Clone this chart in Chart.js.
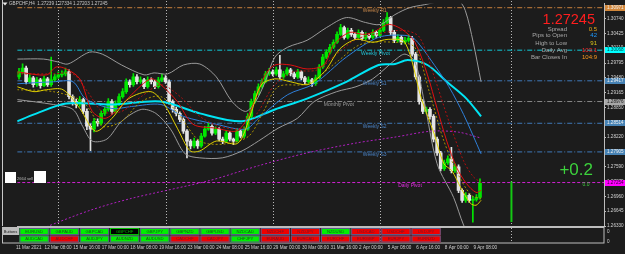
<!DOCTYPE html>
<html>
<head>
<meta charset="utf-8">
<script src="https://cdn.jsdelivr.net/npm/chart.js@4.4.1/dist/chart.umd.min.js"></script>
<style>
html,body{margin:0;padding:0;background:#1c1c1c;overflow:hidden;}
canvas{display:block;}
</style>
</head>
<body>
<canvas id="c" width="625" height="254"></canvas>
<script>
// ---------- DATA ----------
const candleOpen=[1.29501,1.29606,1.29690,1.29396,1.29480,1.29333,1.29438,1.29312,1.29459,1.29333,
1.29438,1.29501,1.29543,1.29564,1.29606,1.29081,1.28976,1.28913,1.29018,1.28766,
1.28451,1.28388,1.28556,1.28514,1.28724,1.28808,1.28976,1.28766,1.28934,1.29081,
1.29186,1.29396,1.29333,1.29501,1.29396,1.29438,1.29291,1.29438,1.29396,1.29291,
1.29438,1.29480,1.29396,1.28976,1.28808,1.28724,1.28598,1.28346,1.28136,1.28031,
1.28136,1.28031,1.28241,1.28388,1.28451,1.28304,1.28388,1.28178,1.28136,1.28304,
1.28178,1.28136,1.28346,1.28241,1.28388,1.28661,1.28976,1.29144,1.29291,1.29396,
1.29564,1.29606,1.29564,1.29648,1.29501,1.29564,1.29648,1.29564,1.29501,1.29606,
1.29480,1.29396,1.29438,1.29354,1.29480,1.29711,1.29921,1.30026,1.30131,1.30236,
1.30404,1.30551,1.30341,1.30488,1.30404,1.30341,1.30446,1.30320,1.30383,1.30341,
1.30446,1.30383,1.30488,1.30656,1.30761,1.30446,1.30278,1.30341,1.30236,1.30278,
1.30320,1.29984,1.29501,1.28976,1.28766,1.28808,1.28661,1.28178,1.27884,1.27548,
1.27674,1.27758,1.27506,1.27590,1.27086,1.26876,1.26981,1.26876,1.26897,1.26939];
const candleHigh=[1.2968,1.2978,1.2973,1.2955,1.2951,1.2949,1.2947,1.2952,1.2949,1.2992,
1.2956,1.2961,1.2963,1.2969,1.2965,1.2912,1.2903,1.2908,1.2905,1.2882,
1.2850,1.2862,1.2861,1.2878,1.2887,1.2904,1.2902,1.2899,1.2914,1.2925,
1.2946,1.2944,1.2957,1.2955,1.2950,1.2947,1.2950,1.2948,1.2943,1.2949,
1.2956,1.2953,1.2944,1.2901,1.2886,1.2876,1.2863,1.2838,1.2817,1.2820,
1.2817,1.2830,1.2845,1.2852,1.2848,1.2844,1.2842,1.2822,1.2836,1.2834,
1.2820,1.2840,1.2838,1.2844,1.2872,1.2903,1.2920,1.2935,1.2946,1.2962,
1.2968,1.2965,1.2971,1.2996,1.2962,1.2970,1.2968,1.2960,1.2966,1.2963,
1.2951,1.2950,1.2947,1.2954,1.2976,1.2998,1.3008,1.3019,1.3029,1.3046,
1.3062,1.3058,1.3054,1.3053,1.3044,1.3050,1.3048,1.3044,1.3042,1.3050,
1.3048,1.3054,1.3072,1.3087,1.3079,1.3049,1.3040,1.3038,1.3034,1.3040,
1.3036,1.3002,1.2954,1.2902,1.2886,1.2885,1.2870,1.2822,1.2792,1.2773,
1.2782,1.2800,1.2765,1.2763,1.2712,1.2704,1.2702,1.2696,1.2700,1.27334];
const candleLow=[1.2945,1.2957,1.2935,1.2936,1.2928,1.2930,1.2926,1.2929,1.2930,1.2930,
1.2941,1.2947,1.2950,1.2952,1.2903,1.2890,1.2884,1.2887,1.2872,1.2838,
1.2793,1.2833,1.2845,1.2848,1.2868,1.2877,1.2871,1.2873,1.2889,1.2905,
1.2915,1.2928,1.2930,1.2935,1.2936,1.2925,1.2926,1.2935,1.2925,1.2926,
1.2940,1.2936,1.2892,1.2875,1.2867,1.2855,1.2830,1.2778,1.2797,1.2799,
1.2798,1.2800,1.2822,1.2836,1.2826,1.2827,1.2814,1.2808,1.2810,1.2814,
1.2806,1.2811,1.2820,1.2820,1.2836,1.2863,1.2894,1.2911,1.2926,1.2937,
1.2953,1.2952,1.2953,1.2946,1.2947,1.2953,1.2952,1.2946,1.2947,1.2944,
1.2935,1.2936,1.2930,1.2932,1.2946,1.2968,1.2989,1.2999,1.3010,1.3021,
1.3038,1.3030,1.3031,1.3036,1.3030,1.3031,1.3028,1.3029,1.3030,1.3031,
1.3034,1.3035,1.3046,1.3062,1.3040,1.3023,1.3024,1.3019,1.3020,1.3024,
1.2994,1.2945,1.2892,1.2872,1.2872,1.2860,1.2812,1.2783,1.2750,1.2751,
1.2764,1.2746,1.2747,1.2704,1.2683,1.2683,1.2683,1.2641,1.2686,1.2690];
const candleClose=[1.29606,1.29690,1.29396,1.29480,1.29333,1.29438,1.29312,1.29459,1.29333,1.29438,
1.29501,1.29543,1.29564,1.29606,1.29081,1.28976,1.28913,1.29018,1.28766,1.28451,
1.28388,1.28556,1.28514,1.28724,1.28808,1.28976,1.28766,1.28934,1.29081,1.29186,
1.29396,1.29333,1.29501,1.29396,1.29438,1.29291,1.29438,1.29396,1.29291,1.29438,
1.29480,1.29396,1.28976,1.28808,1.28724,1.28598,1.28346,1.28136,1.28031,1.28136,
1.28031,1.28241,1.28388,1.28451,1.28304,1.28388,1.28178,1.28136,1.28304,1.28178,
1.28136,1.28346,1.28241,1.28388,1.28661,1.28976,1.29144,1.29291,1.29396,1.29564,
1.29606,1.29564,1.29648,1.29501,1.29564,1.29648,1.29564,1.29501,1.29606,1.29480,
1.29396,1.29438,1.29354,1.29480,1.29711,1.29921,1.30026,1.30131,1.30236,1.30404,
1.30551,1.30341,1.30488,1.30404,1.30341,1.30446,1.30320,1.30383,1.30341,1.30446,
1.30383,1.30488,1.30656,1.30761,1.30446,1.30278,1.30341,1.30236,1.30278,1.30320,
1.29984,1.29501,1.28976,1.28766,1.28808,1.28661,1.28178,1.27884,1.27548,1.27674,
1.27758,1.27506,1.27590,1.27086,1.26876,1.26981,1.26876,1.26897,1.26939,1.27245];

// indicator lines: [bar index, price]
const maCyan=[[-0.5,1.28556],[4.2,1.28703],[13.2,1.28934],[26.0,1.28913],[39.7,1.28976],[50.6,1.28724],[62.4,1.28556],[71.6,1.28808],[80.6,1.29039],[91.6,1.29396],[100.6,1.29753],[105.2,1.29774],[108.8,1.29858],[114.3,1.29753],[119.7,1.29396],[125.2,1.29039],[129.3,1.28661]];
const maBlue=[[-0.5,1.29354],[9.6,1.29396],[15.1,1.29396],[18.6,1.29039],[26.0,1.28829],[31.5,1.28871],[39.7,1.28913],[46.0,1.28661],[55.2,1.28493],[63.4,1.28388],[67.0,1.28619],[75.2,1.29123],[82.6,1.29354],[91.6,1.29921],[100.6,1.30341],[108.0,1.30383],[110.8,1.30299],[117.0,1.29669],[120.3,1.29291],[124.4,1.28703],[129.3,1.27863]];
const maRed=[[-0.5,1.29606],[7.7,1.29543],[10.4,1.29711],[13.2,1.29669],[17.0,1.29459],[20.5,1.28766],[24.1,1.28619],[27.9,1.28829],[31.5,1.29123],[36.9,1.29459],[39.7,1.29333],[44.3,1.28976],[48.7,1.28493],[55.2,1.28409],[60.7,1.28346],[63.4,1.28556],[66.2,1.29039],[68.9,1.29543],[71.6,1.29753],[76.0,1.29753],[80.6,1.29669],[85.3,1.29753],[88.0,1.30173],[92.4,1.30446],[96.2,1.30404],[99.0,1.30446],[103.3,1.30614],[107.2,1.30509],[110.8,1.30236],[114.3,1.29543],[117.0,1.28829],[119.7,1.28136],[122.5,1.27569],[125.2,1.27233],[127.9,1.27044],[129.3,1.27086]];
const maRedDot=[[-0.5,1.29564],[9.6,1.29564],[15.1,1.29564],[19.2,1.29186],[23.3,1.28766],[28.7,1.28766],[34.2,1.29081],[39.7,1.29333],[45.1,1.29081],[50.6,1.28661],[56.1,1.28451],[62.9,1.28409],[67.0,1.28766],[71.1,1.29291],[76.6,1.29606],[83.4,1.29648],[88.9,1.29984],[94.3,1.30299],[102.5,1.30446],[108.0,1.30488],[112.1,1.30341],[116.2,1.29501],[120.3,1.28556],[124.4,1.27716],[127.1,1.27380],[129.3,1.27254]];
const maYellow=[[-0.5,1.29291],[4.2,1.29186],[7.7,1.29228],[12.3,1.29228],[17.0,1.28829],[21.4,1.28346],[26.0,1.28619],[30.7,1.29039],[36.9,1.29186],[40.5,1.28934],[44.3,1.28409],[47.9,1.27926],[50.6,1.27926],[55.2,1.28136],[60.7,1.28073],[62.4,1.28199],[65.1,1.28766],[67.8,1.29333],[71.6,1.29459],[76.0,1.29396],[80.6,1.29333],[83.4,1.29459],[86.1,1.29669],[89.7,1.30089],[94.3,1.30299],[99.0,1.30236],[103.3,1.30299],[108.0,1.30236],[112.6,1.29039],[116.2,1.28283],[118.9,1.27653],[121.1,1.27506],[123.6,1.27149],[126.3,1.26813],[127.9,1.26771],[129.3,1.26876]];
const maYellowDot=[[-0.5,1.29228],[9.6,1.29186],[17.8,1.28976],[23.3,1.28451],[28.7,1.28556],[34.2,1.28976],[39.7,1.29081],[45.1,1.28661],[50.6,1.28136],[57.4,1.28073],[64.3,1.28241],[68.4,1.28766],[72.5,1.29291],[80.6,1.29354],[88.9,1.29816],[95.7,1.30194],[105.2,1.30236],[110.7,1.30131],[114.8,1.29186],[118.9,1.28136],[123.0,1.27411],[126.6,1.26981],[129.3,1.26918]];
const bbUpper=[[-0.5,1.29879],[6.9,1.29879],[11.0,1.29816],[13.7,1.29774],[19.7,1.30026],[23.3,1.29984],[28.7,1.29753],[35.0,1.29543],[37.8,1.29585],[41.6,1.29564],[46.0,1.29753],[50.6,1.29774],[55.2,1.29501],[59.6,1.28976],[63.4,1.28766],[66.2,1.28976],[68.9,1.29396],[71.6,1.29921],[75.2,1.30131],[80.6,1.30278],[86.1,1.30551],[91.6,1.30761],[97.0,1.30656],[101.1,1.30614],[105.2,1.30824],[109.3,1.30971],[113.4,1.31034],[118.9,1.31118],[123.0,1.31118],[124.9,1.30908],[127.1,1.30236],[129.3,1.29396]];
const bbLower=[[-0.5,1.29018],[9.6,1.28913],[15.1,1.28808],[17.8,1.28451],[20.5,1.28136],[24.6,1.28178],[28.7,1.28556],[34.2,1.28808],[38.3,1.28724],[42.4,1.28388],[46.5,1.27863],[50.6,1.27779],[56.9,1.27779],[62.4,1.27926],[67.0,1.28136],[72.5,1.28409],[77.9,1.28619],[82.6,1.28976],[88.9,1.29186],[94.3,1.29291],[99.0,1.29459],[105.2,1.29858],[108.0,1.29984],[110.8,1.29816],[113.4,1.28976],[117.0,1.27653],[121.6,1.26939],[124.4,1.26351],[126.0,1.26141]];
const maPurple=[[-0.5,1.26036],[6.9,1.26288],[20.0,1.26666],[31.5,1.26918],[53.3,1.27296],[67.0,1.27611],[80.6,1.27884],[94.3,1.28094],[105.2,1.28220],[115.4,1.28346],[123.0,1.28325],[129.3,1.28199]];
const greenMarker=[[137.8,1.27275],[137.8,1.26414]];

const pivotNames=['Weekly R1','Weekly Pivot','Weekly S1','Monthly Pivot','Weekly S2','Weekly S3','Daily Pivot'];
const pivotValues=[1.30971,1.30068,1.29417,1.28976,1.28514,1.27905,1.27254];
const pivotLabelAt=[96.2,95.7,96.2,85.3,96.2,96.2,106.1];

const priceTicks=[1.26330,1.26645,1.26960,1.27275,1.27590,1.27905,1.28220,1.28535,1.28850,1.29165,1.29480,1.29795,1.30110,1.30425,1.30740];
const timeTickIdx=[0,8,16,24,32,40,48,56,64,72,80,88,96,104,112,120,128];
const timeLabels=['11 Mar 2021','12 Mar 08:00','15 Mar 16:00','17 Mar 00:00','18 Mar 08:00','19 Mar 16:00','23 Mar 00:00','24 Mar 08:00','25 Mar 16:00','29 Mar 00:00','30 Mar 08:00','31 Mar 16:00','2 Apr 00:00','5 Apr 08:00','6 Apr 16:00','8 Apr 00:00','9 Apr 08:00'];
const weekSeparators=[11,41,71,101,137.8];

const titleText='GBPCHF,H4  1.27239 1.27334 1.27203 1.27245';
const bidText='1.27245';
const infoLabels=['Spread','Pips to Open','High to Low','Daily Avg','Bar Closes In'];
const infoValues=['0.5','42','91','103.1','104:9'];
const profitText='+0.2', profitSub='0.0', sellText='2664 sell';

const btnRow1=['EURUSD','GBPAUD','GBPCAD','GBPCHF','GBPJPY','GBPNZD','GBPUSD','NZDCAD','NZDCHF','NZDJPY','NZDUSD','USDCAD','USDCHF','USDJPY'];
const btnRow1State=['up','up','up','sel','up','up','up','up','dn','dn','up','dn','dn','dn'];
const btnRow2=['AUDCAD','AUDCHF','AUDJPY','AUDNZD','AUDUSD','CADCHF','CADJPY','CHFJPY','EURAUD','EURCAD','EURCHF','EURGBP','EURJPY','EURNZD'];
const btnRow2State=['up','dn','up','up','up','dn','dn','up','dn','dn','dn','dn','dn','dn'];

// ---------- STYLE ----------
const BG='#1c1c1c';
const FONT='"Liberation Sans", Arial, sans-serif';
const UP='#00e600', DN='#e4e4e4';
const pivotLineColors=['#c8803c','#10c8d8','#3f78b8','#8a8a8a','#3f78b8','#3f78b8','#d020d0'];
const pivotTextColors=['#c8884a','#22c4d8','#4a82c4','#9a9a9a','#4a82c4','#4a82c4','#e030e0'];
const pivotBoxColors=['#d2873a','#00ffff','#4682b4','#a8a8a8','#4682b4','#4682b4','#ff00ff'];
const pivotBoxText=['#f0f0f0','#004848','#f0f0f0','#202020','#f0f0f0','#f0f0f0','#300030'];
const infoColors=['#e6a817','#1e9bff','#d9c31a','#ff2a2a','#ff9a1a'];

Chart.defaults.font.family=FONT;

const pts=a=>a.map(p=>({x:p[0],y:p[1]}));
function lineDs(data,color,width,dash,order,tension){
  return {type:'line',data:pts(data),borderColor:color,borderWidth:width,borderDash:dash||[],
    pointRadius:0,tension:tension===undefined?0.3:tension,fill:false,order:order||0};
}
const isUp=candleClose.map((c,i)=>c>=candleOpen[i]);
const candleColors=isUp.map(u=>u?UP:DN);

const datasets=[
  lineDs(maYellow,'#e0d000',1,[],0),
  lineDs(maRed,'#e01010',1,[],0),
  lineDs(maYellowDot,'#a89000',1,[2,2],0),
  lineDs(maRedDot,'#b01010',1,[2,2],0),
  lineDs(maBlue,'#2f7fd8',1,[],0),
  lineDs(maCyan,'#00e4f4',2,[],0),
  lineDs(bbUpper,'#9a9a9a',1,[],0),
  lineDs(bbLower,'#9a9a9a',1,[],0),
  lineDs(maPurple,'#b020c0',1,[2,2],0),
  lineDs(greenMarker,'#14c814',2,[],0,0),
  {type:'bar',data:candleClose.map((c,i)=>({x:i,y:[candleOpen[i],c]})),backgroundColor:candleColors,
   barThickness:3,grouped:false,minBarLength:1,order:1},
  {type:'bar',data:candleClose.map((c,i)=>({x:i,y:[candleLow[i],candleHigh[i]]})),backgroundColor:candleColors,
   barThickness:1,grouped:false,order:2}
];
pivotValues.forEach((v,k)=>{
  datasets.push(lineDs([[-0.5,v],[163.7,v]],pivotLineColors[k],1,k===6?[3,2]:[5,2,1,2],3,0));
});

const decor={
  id:'decor',
  beforeDraw(chart){
    const ctx=chart.ctx; ctx.save(); ctx.fillStyle=BG; ctx.fillRect(0,0,chart.width,chart.height); ctx.restore();
  },
  beforeDatasetsDraw(chart){
    const ctx=chart.ctx, xs=chart.scales.x;
    ctx.save(); ctx.strokeStyle='#b8b8b8'; ctx.lineWidth=1; ctx.setLineDash([1,2]);
    weekSeparators.forEach(v=>{
      const x=Math.round(xs.getPixelForValue(v))+0.5;
      ctx.beginPath(); ctx.moveTo(x,1); ctx.lineTo(x,243); ctx.stroke();
    });
    ctx.restore();
  },
  afterDatasetsDraw(chart){
    const ctx=chart.ctx, xs=chart.scales.x, ys=chart.scales.y;
    ctx.save();
    // pivot labels
    ctx.font='5px '+FONT; ctx.textAlign='left'; ctx.textBaseline='middle';
    pivotNames.forEach((n,k)=>{
      ctx.fillStyle=pivotTextColors[k];
      ctx.fillText(n, xs.getPixelForValue(pivotLabelAt[k]), ys.getPixelForValue(pivotValues[k])+3);
    });
    // sell boxes
    ctx.fillStyle='#ffffff';
    ctx.fillRect(5,172,11,11); ctx.fillRect(34,171,12,12);
    ctx.fillStyle='#bdbdbd'; ctx.font='4px '+FONT; ctx.fillText(sellText,17,179);
    // info panel
    ctx.textAlign='right';
    ctx.font='14.5px '+FONT; ctx.fillStyle='#ff1e1e'; ctx.fillText(bidText,595,20);
    const rows=[29.3,35.7,43.3,50.3,57.3];
    ctx.font='6px '+FONT;
    infoLabels.forEach((l,k)=>{
      ctx.fillStyle='#a8a8a8'; ctx.fillText(l,567,rows[k]);
      ctx.fillStyle=infoColors[k]; ctx.fillText(infoValues[k],597,rows[k]);
    });
    ctx.font='17px '+FONT; ctx.fillStyle='#3cd23c'; ctx.fillText(profitText,593,170);
    ctx.font='5px '+FONT; ctx.textAlign='center'; ctx.fillText(profitSub,586,184.5);
    ctx.restore();
  },
  afterDraw(chart){
    const ctx=chart.ctx, ys=chart.scales.y;
    ctx.save();
    // axis price boxes
    ctx.font='4.6px '+FONT; ctx.textAlign='left'; ctx.textBaseline='middle';
    pivotValues.forEach((v,k)=>{
      const y=ys.getPixelForValue(v);
      ctx.fillStyle=pivotBoxColors[k]; ctx.fillRect(605,Math.round(y)-3,20,6);
      ctx.fillStyle=pivotBoxText[k]; ctx.fillText(v.toFixed(5),607,Math.round(y));
    });
    // left border
    ctx.strokeStyle='#c8c8c8'; ctx.lineWidth=1; ctx.setLineDash([]);
    ctx.beginPath(); ctx.moveTo(2.5,0); ctx.lineTo(2.5,226); ctx.stroke();
    // sub window
    ctx.fillStyle=BG; ctx.fillRect(3,227,601,16);
    ctx.strokeStyle='#bdbdbd'; ctx.strokeRect(2.5,227.5,601.5,15.5);
    // separators through sub-window
    ctx.strokeStyle='#b8b8b8'; ctx.setLineDash([1,2]);
    weekSeparators.forEach(v=>{
      const x=Math.round(chart.scales.x.getPixelForValue(v))+0.5;
      ctx.beginPath(); ctx.moveTo(x,228); ctx.lineTo(x,243); ctx.stroke();
    });
    ctx.setLineDash([]);
    ctx.fillStyle='#d2d2d2'; ctx.font='4.6px '+FONT;
    ctx.fillText('0',607,232); ctx.fillText('0',607,242);
    // buttons
    ctx.fillStyle='#bcbcbc'; ctx.fillRect(2,228,17,7);
    ctx.fillStyle='#202020'; ctx.font='4px '+FONT; ctx.textAlign='center';
    ctx.fillText('Buttons',10.5,231.7);
    const drawRow=(names,states,y,h)=>{
      names.forEach((n,k)=>{
        const x=19.5+k*30.15, w=29.3, s=states[k];
        ctx.fillStyle = s==='up'?'#00f000':(s==='dn'?'#f00000':'#000000');
        ctx.fillRect(x,y,w,h);
        ctx.strokeStyle = s==='sel'?'#00c000':'#5a5a86';
        ctx.lineWidth=1; ctx.strokeRect(x+0.5,y+0.5,w-1,h-1);
        ctx.fillStyle = s==='up'?'#1a4a1a':(s==='dn'?'#6a1a2a':'#00b000');
        ctx.font='4.2px '+FONT; ctx.fillText(n,x+w/2,y+h/2+0.3);
      });
    };
    drawRow(btnRow1,btnRow1State,228,7);
    drawRow(btnRow2,btnRow2State,235.5,7);
    // title
    ctx.fillStyle='#e8e8e8';
    ctx.beginPath(); ctx.moveTo(2.5,2.5); ctx.lineTo(7.5,2.5); ctx.lineTo(5,5.5); ctx.closePath(); ctx.fill();
    ctx.fillStyle='#c8c8c8'; ctx.font='4.6px '+FONT; ctx.textAlign='left'; ctx.textBaseline='middle';
    ctx.fillText(titleText,9,4.2);
    ctx.restore();
  }
};

new Chart(document.getElementById('c'),{
  type:'bar',
  data:{datasets},
  options:{
    responsive:false, animation:false, devicePixelRatio:1,
    layout:{padding:{left:3,top:1,right:0,bottom:0}},
    plugins:{legend:{display:false},tooltip:{enabled:false}},
    scales:{
      x:{type:'linear',min:-0.5,max:163.7,offset:false,
        afterBuildTicks:s=>{s.ticks=timeTickIdx.map(v=>({value:v}));},
        afterFit:s=>{s.height=28;},
        ticks:{autoSkip:false,maxRotation:0,minRotation:0,align:'start',padding:19,labelOffset:-3,
          color:'#d2d2d2',font:{size:4.6},
          callback:v=>{const k=timeTickIdx.indexOf(v);return k>=0?timeLabels[k]:'';}},
        grid:{display:false,drawTicks:false},
        border:{display:true,color:'#bdbdbd',width:1}},
      y:{type:'linear',position:'right',min:1.26330,max:1.31055,
        afterBuildTicks:s=>{s.ticks=priceTicks.map(v=>({value:v}));},
        afterFit:s=>{s.width=21;},
        ticks:{autoSkip:false,padding:1,color:'#d2d2d2',font:{size:4.6},callback:v=>v.toFixed(5)},
        grid:{drawOnChartArea:false,drawTicks:true,tickLength:2,color:'#bdbdbd'},
        border:{display:true,color:'#bdbdbd',width:1}}
    }
  },
  plugins:[decor]
});
</script>
</body>
</html>
